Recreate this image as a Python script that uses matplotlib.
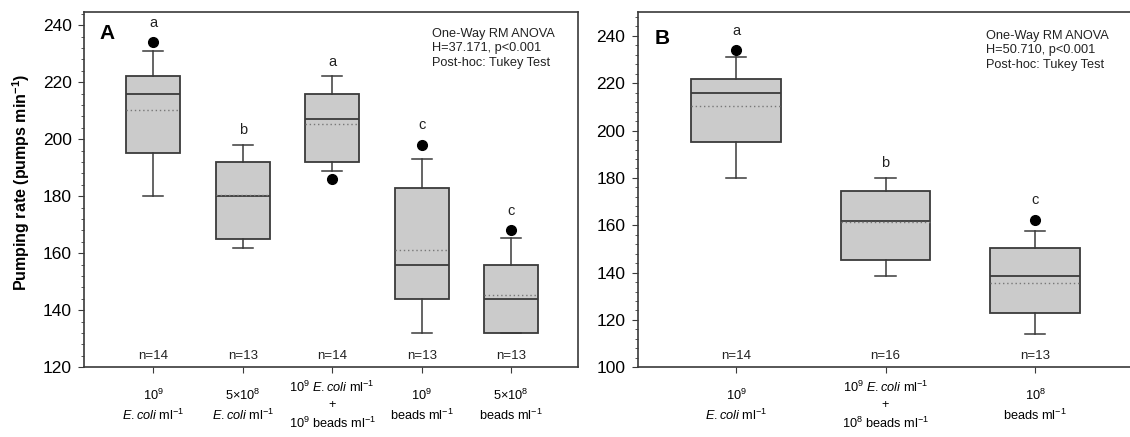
import numpy as np
import matplotlib
matplotlib.use("Agg")
import matplotlib.pyplot as plt
from matplotlib.ticker import MultipleLocator

plt.rcParams['font.family'] = ['Liberation Sans', 'DejaVu Sans']
plt.rcParams['mathtext.fontset'] = 'custom'
plt.rcParams['mathtext.rm'] = 'Liberation Sans'
plt.rcParams['mathtext.it'] = 'Liberation Sans:italic'
plt.rcParams['mathtext.bf'] = 'Liberation Sans:bold'

# Panel A data
a_labels = [r"$10^{9}$" + "\n" + r"$\it{E.coli}$ ml$^{-1}$",
            r"$5{\times}10^{8}$" + "\n" + r"$\it{E.coli}$ ml$^{-1}$",
            r"$10^{9}$ $\it{E.coli}$ ml$^{-1}$" + "\n+\n" + r"$10^{9}$ beads ml$^{-1}$",
            r"$10^{9}$" + "\n" + r"beads ml$^{-1}$",
            r"$5{\times}10^{8}$" + "\n" + r"beads ml$^{-1}$"]
a_whislo = [180, 162, 189, 132, 132]
a_q1 = [195, 165, 192, 144, 132]
a_med = [216, 180, 207, 156, 144]
a_q3 = [222, 192, 216, 183, 156]
a_whishi = [231, 198, 222, 193, 165.5]
a_mean = [210.3, 180.4, 205.2, 161.2, 145.2]
a_fliers = [[234], [], [186], [198], [168]]
a_letters = ["a", "b", "a", "c", "c"]
a_n = [14, 13, 14, 13, 13]
a_stats = "One-Way RM ANOVA\nH=37.171, p<0.001\nPost-hoc: Tukey Test"

# Panel B data
b_labels = [r"$10^{9}$" + "\n" + r"$\it{E.coli}$ ml$^{-1}$",
            r"$10^{9}$ $\it{E.coli}$ ml$^{-1}$" + "\n+\n" + r"$10^{8}$ beads ml$^{-1}$",
            r"$10^{8}$" + "\n" + r"beads ml$^{-1}$"]
b_whislo = [180, 138.5, 114]
b_q1 = [195, 145.5, 123]
b_med = [216, 162, 138.5]
b_q3 = [222, 174.3, 150.3]
b_whishi = [231, 180, 157.5]
b_mean = [210.5, 161.5, 135.8]
b_fliers = [[234], [], [162.3]]
b_letters = ["a", "b", "c"]
b_n = [14, 16, 13]
b_stats = "One-Way RM ANOVA\nH=50.710, p<0.001\nPost-hoc: Tukey Test"

edge = '#3a3a3a'
fill = '#cbcbcb'


def draw_panel(ax, labels, whislo, q1, med, q3, whishi, mean, fliers,
               letters, nvals, stats_text, letter, ylim, xlim, capw,
               letter_xy, stats_xy):
    stats = []
    for i in range(len(labels)):
        stats.append(dict(whislo=whislo[i], q1=q1[i], med=med[i], q3=q3[i],
                          whishi=whishi[i], mean=mean[i], fliers=fliers[i]))
    pos = np.arange(1, len(labels) + 1)
    ax.bxp(stats, positions=pos, widths=0.6, capwidths=capw, patch_artist=True,
           showmeans=True, meanline=True,
           boxprops=dict(facecolor=fill, edgecolor=edge, linewidth=1.3),
           medianprops=dict(color=edge, linewidth=1.3),
           meanprops=dict(color='#777777', linestyle=(0, (1, 2)), linewidth=1.0),
           whiskerprops=dict(color=edge, linewidth=1.1),
           capprops=dict(color=edge, linewidth=1.1),
           flierprops=dict(marker='o', markerfacecolor='black', markeredgecolor='black',
                           markersize=7))
    for i, p in enumerate(pos):
        top = max([whishi[i]] + list(fliers[i]))
        off = 9 if len(fliers[i]) and max(fliers[i]) >= whishi[i] else 5.5
        ax.annotate(letters[i], (p, top), xytext=(0, off), textcoords='offset points',
                    ha='center', va='bottom', fontsize=10.5, color='#222222')
        ax.annotate("n=%d" % nvals[i], (p, ylim[0]), xytext=(0, 8),
                    textcoords='offset points', ha='center', va='center',
                    fontsize=9.5, color='#222222')
    ax.set_xlim(*xlim)
    ax.set_ylim(*ylim)
    ax.set_xticks(pos)
    ax.set_xticklabels(labels, fontsize=9.2, linespacing=1.4)
    for t in ax.get_xticklabels():
        t.set_verticalalignment('center')
    ax.yaxis.set_major_locator(MultipleLocator(20))
    ax.yaxis.set_minor_locator(MultipleLocator(4))
    ax.tick_params(axis='y', which='major', labelsize=12.5, length=4, color=edge, pad=5)
    ax.tick_params(axis='y', which='minor', length=2, color=edge)
    ax.tick_params(axis='x', length=4, color=edge, pad=23.5)
    for s in ax.spines.values():
        s.set_color(edge)
        s.set_linewidth(1.2)
    ax.text(letter_xy[0], letter_xy[1], letter, transform=ax.transAxes, fontsize=15,
            fontweight='bold', ha='left', va='center')
    ax.text(stats_xy[0], stats_xy[1], stats_text, transform=ax.transAxes, fontsize=9.2,
            ha='left', va='top', linespacing=1.3, color='#222222')


fig = plt.figure(figsize=(11.3, 4.37), dpi=100)
ax1 = fig.add_axes([0.0746, 0.1595, 0.4366, 0.8124])
ax2 = fig.add_axes([0.5646, 0.1595, 0.4381, 0.8124])

draw_panel(ax1, a_labels, a_whislo, a_q1, a_med, a_q3, a_whishi, a_mean, a_fliers,
           a_letters, a_n, a_stats, "A", (120, 244.5), (0.23, 5.743), 0.226,
           (0.030, 0.941), (0.704, 0.957))
draw_panel(ax2, b_labels, b_whislo, b_q1, b_med, b_q3, b_whishi, b_mean, b_fliers,
           b_letters, b_n, b_stats, "B", (100, 250), (0.345, 3.655), 0.137,
           (0.033, 0.927), (0.703, 0.951))
ax2.spines['right'].set_visible(False)

ax1.set_ylabel(r"Pumping rate (pumps min$^{\mathbf{-1}}$)", fontsize=11.5,
               fontweight='bold')
ax1.yaxis.set_label_coords(-0.106, 0.52)

fig.savefig("out.png", dpi=100)
